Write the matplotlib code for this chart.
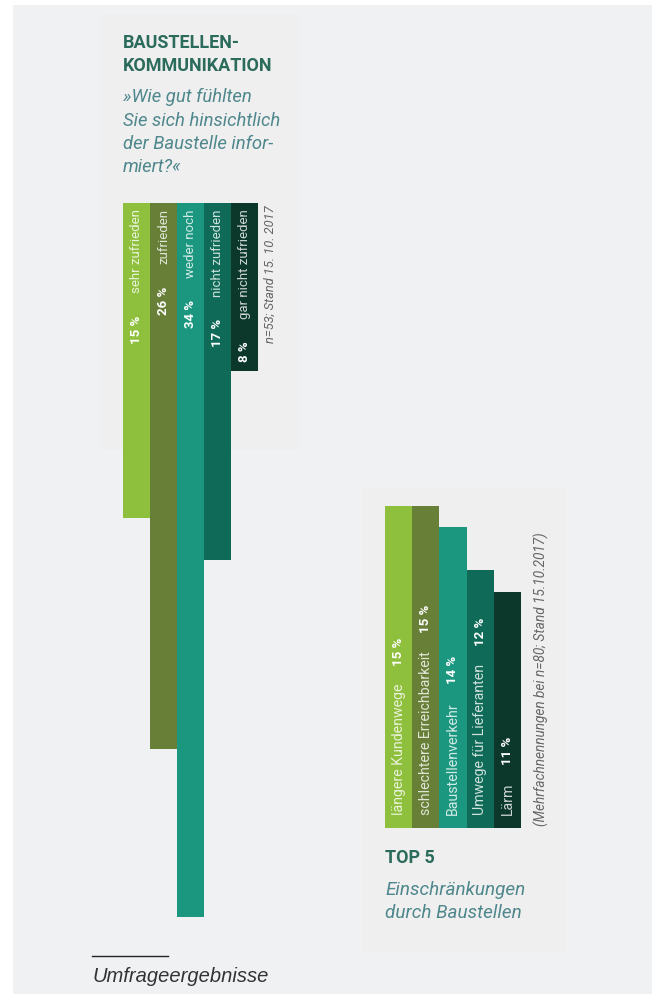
import matplotlib.pyplot as plt
from matplotlib.patches import Rectangle

# --- data ---
zufr_labels = ["sehr zufrieden", "zufrieden", "weder noch", "nicht zufrieden", "gar nicht zufrieden"]
zufr_values = [15, 26, 34, 17, 8]

top5_labels = ["längere Kundenwege", "schlechtere Erreichbarkeit", "Baustellenverkehr",
               "Umwege für Lieferanten", "Lärm"]
top5_values = [15, 15, 14, 12, 11]

colors = ["#8fc03d", "#677f37", "#1c977f", "#0f6b58", "#0c382b"]

W, H = 652, 994
plt.rcParams['font.family'] = ['Roboto', 'DejaVu Sans']

fig = plt.figure(figsize=(W / 100, H / 100), dpi=100, facecolor="white")


def fx(px):
    return px / W


def fy(py):
    return 1 - py / H


# page background and panel boxes
fig.patches.append(Rectangle((fx(13), 0), 1 - fx(13), fy(5), transform=fig.transFigure,
                             facecolor="#f0f1f3", edgecolor="none", zorder=-2))
fig.patches.append(Rectangle((fx(100), fy(450)), fx(200), 436 / H, transform=fig.transFigure,
                             facecolor="#efefef", edgecolor="none", zorder=-1))
fig.patches.append(Rectangle((fx(362), fy(953)), fx(204), 466 / H, transform=fig.transFigure,
                             facecolor="#efefef", edgecolor="none", zorder=-1))

# --- left chart: bars hanging down from the top ---
px_per_pct = 21.0
ymax1 = 36
ax1 = fig.add_axes([fx(123), fy(203 + ymax1 * px_per_pct), fx(258 - 123), ymax1 * px_per_pct / H])
ax1.set_zorder(2)
ax1.bar(range(5), zufr_values, width=1.0, color=colors, edgecolor="none")
ax1.set_xlim(-0.5, 4.5)
ax1.set_ylim(ymax1, 0)
ax1.axis("off")

fig.canvas.draw()
for i, (lab, v) in enumerate(zip(zufr_labels, zufr_values)):
    t = ax1.text(i, 0.3, lab, rotation=90, ha="center", va="top", color="white",
                 alpha=0.8, fontsize=9.5)
    ax1.annotate(f"{v} %", xy=(0.5, 0), xycoords=t, xytext=(0, -16), textcoords="offset points",
                 rotation=90, ha="center", va="top", color="white", fontsize=9.5,
                 fontweight="bold")

fig.text(fx(270), fy(205), "n=53; Stand 15. 10. 2017", rotation=90, ha="center", va="top",
         fontsize=9.3, style="italic", color="#666666")

# --- right chart: bars growing up ---
px_per_pct2 = 21.5
ymax2 = 16
ax2 = fig.add_axes([fx(385), fy(828), fx(521 - 385), ymax2 * px_per_pct2 / H])
ax2.set_zorder(2)
ax2.bar(range(5), top5_values, width=1.0, color=colors, edgecolor="none")
ax2.set_xlim(-0.5, 4.5)
ax2.set_ylim(0, ymax2)
ax2.axis("off")

for i, (lab, v) in enumerate(zip(top5_labels, top5_values)):
    t = ax2.text(i, 0.6, lab, rotation=90, ha="center", va="bottom", color="white",
                 alpha=0.8, fontsize=10.2)
    ax2.annotate(f"{v} %", xy=(0.5, 1), xycoords=t, xytext=(0, 13), textcoords="offset points",
                 rotation=90, ha="center", va="bottom", color="white", fontsize=9.5,
                 fontweight="bold")

fig.text(fx(541), fy(826), "(Mehrfachnennungen bei n=80; Stand 15.10.2017)", rotation=90,
         ha="center", va="bottom", fontsize=9.8, style="italic", color="#666666")

# --- headings ---
head_col = "#2b6b5c"
quest_col = "#4e878c"
fig.text(fx(123), fy(43), "BAUSTELLEN-", fontsize=13, fontweight="bold", color=head_col,
         va="center")
fig.text(fx(123), fy(66), "KOMMUNIKATION", fontsize=13, fontweight="bold", color=head_col,
         va="center")
for k, line in enumerate(["»Wie gut fühlten", "Sie sich hinsichtlich",
                          "der Baustelle infor-", "miert?«"]):
    fig.text(fx(123), fy(97 + 23.5 * k), line, fontsize=13.3, style="italic", color=quest_col,
             va="center")

fig.text(fx(385), fy(858), "TOP 5", fontsize=13, fontweight="bold", color=head_col,
         va="center")
fig.text(fx(385), fy(890), "Einschränkungen", fontsize=13.6, style="italic", color=quest_col,
         va="center")
fig.text(fx(385), fy(913), "durch Baustellen", fontsize=13.6, style="italic", color=quest_col,
         va="center")

# footer
fig.add_artist(plt.Line2D([fx(92), fx(168)], [fy(956), fy(956)], transform=fig.transFigure,
                          color="#222222", linewidth=1))
fig.text(fx(92), fy(976), "Umfrageergebnisse", fontsize=14.5, style="italic", color="#333333",
         va="center", family=["Liberation Sans", "DejaVu Sans"])

fig.savefig("out.png", dpi=100, facecolor=fig.get_facecolor())
